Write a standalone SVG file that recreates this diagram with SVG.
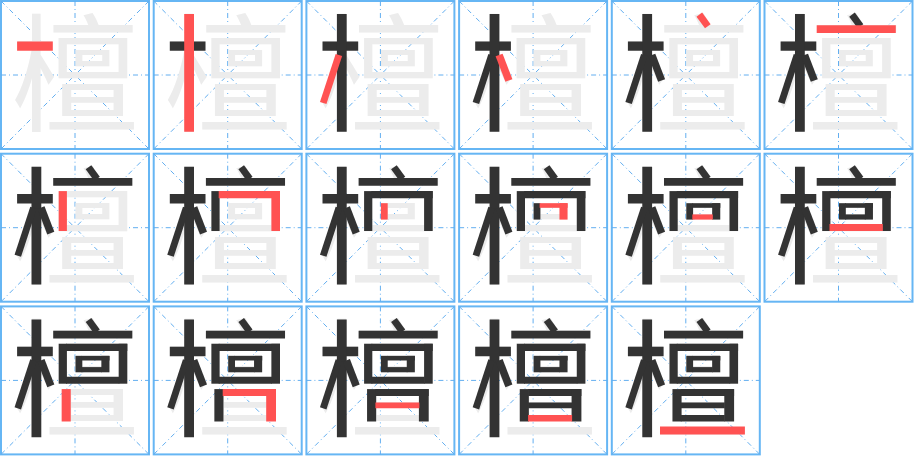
<svg xmlns="http://www.w3.org/2000/svg" xmlns:xlink="http://www.w3.org/1999/xlink" width="915" height="456" viewBox="0 0 915 456">
<style>
.cell{fill:#fff;stroke:#66b6f4;stroke-width:2}
.guide{stroke:#62aef0;stroke-width:1;stroke-dasharray:5,3,1,3;fill:none}
.bg{font-family:"Noto Sans CJK SC","Noto Sans CJK JP",sans-serif;font-size:128px;fill:#ececec;text-anchor:middle}
.d{fill:none;stroke:#333333;stroke-linecap:butt;stroke-linejoin:miter}
.r{fill:none;stroke:#ff5252;stroke-linecap:butt;stroke-linejoin:miter}
</style>
<defs>
<g id="frame">
<rect class="cell" x="0" y="0" width="148" height="148"/>
<path class="guide" d="M0,74H148M74,0V148M0,0L148,148M148,0L0,148"/>
<text class="bg" x="73.75" y="121">檀</text>
</g>
<g id="s1"><path d="M16.1,45.1H51.8" stroke-width="9.4"/></g>
<g id="s2"><path d="M35.4,13.1V130.8" stroke-width="9.8"/></g>
<g id="s3"><path d="M32.5,54L16.8,102" stroke-width="6.8"/></g>
<g id="s4"><path d="M40,54L49.8,79.5" stroke-width="7.5"/></g>
<g id="s5"><path d="M87.5,13.6L96,25.2" stroke-width="7"/></g>
<g id="s6"><path d="M52.2,28.2H131.3" stroke-width="7.8"/></g>
<g id="s7"><path d="M61.8,37.4V77.3" stroke-width="8.2"/></g>
<g id="s8"><path d="M65,41H126.3" stroke-width="7.2"/><path d="M122,37.4V77.3" stroke-width="8.6"/></g>
<g id="s9"><path d="M77.9,49.5V65.9" stroke-width="6.8"/></g>
<g id="s10"><path d="M80.5,51.8H108.5" stroke-width="4.6"/><path d="M104.4,49.5V65.9" stroke-width="8.1"/></g>
<g id="s11"><path d="M80.5,63.3H101" stroke-width="5.2"/></g>
<g id="s12"><path d="M65,73.8H118.3" stroke-width="7.1"/></g>
<g id="s13"><path d="M65.2,82.7V115.1" stroke-width="9.1"/></g>
<g id="s14"><path d="M69,86.1H122.3" stroke-width="6.8"/><path d="M117.4,82.7V115.1" stroke-width="9.8"/></g>
<g id="s15"><path d="M69,99H113" stroke-width="5.8"/></g>
<g id="s16"><path d="M69,111.8H113" stroke-width="6.5"/></g>
<g id="s17"><path d="M48.2,124.1H133.1" stroke-width="8.2"/></g>
</defs>
<g id="cell1" transform="translate(1,1)"><use xlink:href="#frame"/><use class="r" xlink:href="#s1"/></g>
<g id="cell2" transform="translate(153.7,1)"><use xlink:href="#frame"/><use class="d" xlink:href="#s1"/><use class="r" xlink:href="#s2"/></g>
<g id="cell3" transform="translate(306.4,1)"><use xlink:href="#frame"/><use class="d" xlink:href="#s1"/><use class="d" xlink:href="#s2"/><use class="r" xlink:href="#s3"/></g>
<g id="cell4" transform="translate(459.1,1)"><use xlink:href="#frame"/><use class="d" xlink:href="#s1"/><use class="d" xlink:href="#s2"/><use class="d" xlink:href="#s3"/><use class="r" xlink:href="#s4"/></g>
<g id="cell5" transform="translate(611.8,1)"><use xlink:href="#frame"/><use class="d" xlink:href="#s1"/><use class="d" xlink:href="#s2"/><use class="d" xlink:href="#s3"/><use class="d" xlink:href="#s4"/><use class="r" xlink:href="#s5"/></g>
<g id="cell6" transform="translate(764.5,1)"><use xlink:href="#frame"/><use class="d" xlink:href="#s1"/><use class="d" xlink:href="#s2"/><use class="d" xlink:href="#s3"/><use class="d" xlink:href="#s4"/><use class="d" xlink:href="#s5"/><use class="r" xlink:href="#s6"/></g>
<g id="cell7" transform="translate(1,153.7)"><use xlink:href="#frame"/><use class="d" xlink:href="#s1"/><use class="d" xlink:href="#s2"/><use class="d" xlink:href="#s3"/><use class="d" xlink:href="#s4"/><use class="d" xlink:href="#s5"/><use class="d" xlink:href="#s6"/><use class="r" xlink:href="#s7"/></g>
<g id="cell8" transform="translate(153.7,153.7)"><use xlink:href="#frame"/><use class="d" xlink:href="#s1"/><use class="d" xlink:href="#s2"/><use class="d" xlink:href="#s3"/><use class="d" xlink:href="#s4"/><use class="d" xlink:href="#s5"/><use class="d" xlink:href="#s6"/><use class="d" xlink:href="#s7"/><use class="r" xlink:href="#s8"/></g>
<g id="cell9" transform="translate(306.4,153.7)"><use xlink:href="#frame"/><use class="d" xlink:href="#s1"/><use class="d" xlink:href="#s2"/><use class="d" xlink:href="#s3"/><use class="d" xlink:href="#s4"/><use class="d" xlink:href="#s5"/><use class="d" xlink:href="#s6"/><use class="d" xlink:href="#s7"/><use class="d" xlink:href="#s8"/><use class="r" xlink:href="#s9"/></g>
<g id="cell10" transform="translate(459.1,153.7)"><use xlink:href="#frame"/><use class="d" xlink:href="#s1"/><use class="d" xlink:href="#s2"/><use class="d" xlink:href="#s3"/><use class="d" xlink:href="#s4"/><use class="d" xlink:href="#s5"/><use class="d" xlink:href="#s6"/><use class="d" xlink:href="#s7"/><use class="d" xlink:href="#s8"/><use class="d" xlink:href="#s9"/><use class="r" xlink:href="#s10"/></g>
<g id="cell11" transform="translate(611.8,153.7)"><use xlink:href="#frame"/><use class="d" xlink:href="#s1"/><use class="d" xlink:href="#s2"/><use class="d" xlink:href="#s3"/><use class="d" xlink:href="#s4"/><use class="d" xlink:href="#s5"/><use class="d" xlink:href="#s6"/><use class="d" xlink:href="#s7"/><use class="d" xlink:href="#s8"/><use class="d" xlink:href="#s9"/><use class="d" xlink:href="#s10"/><use class="r" xlink:href="#s11"/></g>
<g id="cell12" transform="translate(764.5,153.7)"><use xlink:href="#frame"/><use class="d" xlink:href="#s1"/><use class="d" xlink:href="#s2"/><use class="d" xlink:href="#s3"/><use class="d" xlink:href="#s4"/><use class="d" xlink:href="#s5"/><use class="d" xlink:href="#s6"/><use class="d" xlink:href="#s7"/><use class="d" xlink:href="#s8"/><use class="d" xlink:href="#s9"/><use class="d" xlink:href="#s10"/><use class="d" xlink:href="#s11"/><use class="r" xlink:href="#s12"/></g>
<g id="cell13" transform="translate(1,306.4)"><use xlink:href="#frame"/><use class="d" xlink:href="#s1"/><use class="d" xlink:href="#s2"/><use class="d" xlink:href="#s3"/><use class="d" xlink:href="#s4"/><use class="d" xlink:href="#s5"/><use class="d" xlink:href="#s6"/><use class="d" xlink:href="#s7"/><use class="d" xlink:href="#s8"/><use class="d" xlink:href="#s9"/><use class="d" xlink:href="#s10"/><use class="d" xlink:href="#s11"/><use class="d" xlink:href="#s12"/><use class="r" xlink:href="#s13"/></g>
<g id="cell14" transform="translate(153.7,306.4)"><use xlink:href="#frame"/><use class="d" xlink:href="#s1"/><use class="d" xlink:href="#s2"/><use class="d" xlink:href="#s3"/><use class="d" xlink:href="#s4"/><use class="d" xlink:href="#s5"/><use class="d" xlink:href="#s6"/><use class="d" xlink:href="#s7"/><use class="d" xlink:href="#s8"/><use class="d" xlink:href="#s9"/><use class="d" xlink:href="#s10"/><use class="d" xlink:href="#s11"/><use class="d" xlink:href="#s12"/><use class="d" xlink:href="#s13"/><use class="r" xlink:href="#s14"/></g>
<g id="cell15" transform="translate(306.4,306.4)"><use xlink:href="#frame"/><use class="d" xlink:href="#s1"/><use class="d" xlink:href="#s2"/><use class="d" xlink:href="#s3"/><use class="d" xlink:href="#s4"/><use class="d" xlink:href="#s5"/><use class="d" xlink:href="#s6"/><use class="d" xlink:href="#s7"/><use class="d" xlink:href="#s8"/><use class="d" xlink:href="#s9"/><use class="d" xlink:href="#s10"/><use class="d" xlink:href="#s11"/><use class="d" xlink:href="#s12"/><use class="d" xlink:href="#s13"/><use class="d" xlink:href="#s14"/><use class="r" xlink:href="#s15"/></g>
<g id="cell16" transform="translate(459.1,306.4)"><use xlink:href="#frame"/><use class="d" xlink:href="#s1"/><use class="d" xlink:href="#s2"/><use class="d" xlink:href="#s3"/><use class="d" xlink:href="#s4"/><use class="d" xlink:href="#s5"/><use class="d" xlink:href="#s6"/><use class="d" xlink:href="#s7"/><use class="d" xlink:href="#s8"/><use class="d" xlink:href="#s9"/><use class="d" xlink:href="#s10"/><use class="d" xlink:href="#s11"/><use class="d" xlink:href="#s12"/><use class="d" xlink:href="#s13"/><use class="d" xlink:href="#s14"/><use class="d" xlink:href="#s15"/><use class="r" xlink:href="#s16"/></g>
<g id="cell17" transform="translate(611.8,306.4)"><use xlink:href="#frame"/><use class="d" xlink:href="#s1"/><use class="d" xlink:href="#s2"/><use class="d" xlink:href="#s3"/><use class="d" xlink:href="#s4"/><use class="d" xlink:href="#s5"/><use class="d" xlink:href="#s6"/><use class="d" xlink:href="#s7"/><use class="d" xlink:href="#s8"/><use class="d" xlink:href="#s9"/><use class="d" xlink:href="#s10"/><use class="d" xlink:href="#s11"/><use class="d" xlink:href="#s12"/><use class="d" xlink:href="#s13"/><use class="d" xlink:href="#s14"/><use class="d" xlink:href="#s15"/><use class="d" xlink:href="#s16"/><use class="r" xlink:href="#s17"/></g>
</svg>
